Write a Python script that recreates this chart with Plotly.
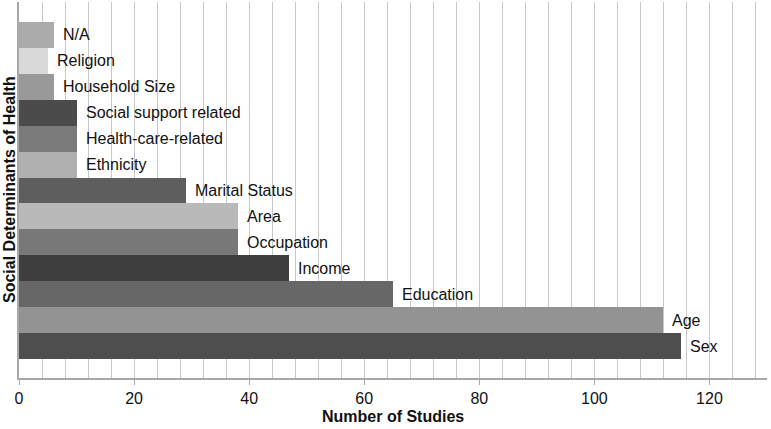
import plotly.graph_objects as go

categories = ["Sex", "Age", "Education", "Income", "Occupation", "Area",
              "Marital Status", "Ethnicity", "Health-care-related",
              "Social support related", "Household Size", "Religion", "N/A"]
values = [115, 112, 65, 47, 38, 38, 29, 10, 10, 10, 6, 5, 6]
colors = ["#4e4e4e", "#939393", "#676767", "#3e3e3e", "#787878", "#b9b9b9",
          "#5e5e5e", "#b0b0b0", "#7a7a7a", "#4b4b4b", "#999999", "#d9d9d9", "#ababab"]
x_title = "Number of Studies"
y_title = "Social Determinants of Health"

FONT = "Liberation Sans, Arial, sans-serif"

fig = go.Figure(go.Bar(
    x=values, y=categories, orientation="h",
    marker=dict(color=colors, line=dict(width=0)),
    hoverinfo="x+y",
))

for c, v in zip(categories, values):
    fig.add_annotation(x=v, y=c, text=c, showarrow=False, xanchor="left",
                       yanchor="middle", xshift=7,
                       font=dict(family=FONT, size=16, color="#111111"))

fig.add_annotation(xref="paper", yref="paper", x=0.5, y=0, yanchor="middle",
                   yshift=-38, text="<b>" + x_title + "</b>", showarrow=False,
                   font=dict(family=FONT, size=16, color="#111111"))
fig.add_annotation(xref="paper", yref="paper", x=0, y=0.5, xanchor="center",
                   xshift=-10, textangle=-90, text="<b>" + y_title + "</b>",
                   showarrow=False,
                   font=dict(family=FONT, size=16, color="#111111"))

fig.update_layout(
    width=771, height=429,
    margin=dict(l=19, r=4, t=2, b=51),
    paper_bgcolor="white", plot_bgcolor="white",
    bargap=0, showlegend=False,
    font=dict(family=FONT, size=16, color="#111111"),
)
fig.update_xaxes(
    range=[0, 130], dtick=20, tick0=0, automargin=False,
    showgrid=True, gridcolor="#c8c8c8", gridwidth=1,
    minor=dict(dtick=4, tick0=0, showgrid=True, gridcolor="#c8c8c8", gridwidth=1),
    showline=True, linecolor="#a8a8a8", linewidth=1.5,
    ticks="outside", ticklen=5, tickcolor="#a8a8a8",
    zeroline=False,
    tickfont=dict(family=FONT, size=16, color="#111111"),
)
fig.update_yaxes(
    type="category", categoryorder="array", categoryarray=categories,
    range=[-1.23, 13.27], automargin=False,
    showticklabels=False, showgrid=False, zeroline=False,
    showline=True, linecolor="#a8a8a8", linewidth=1.5, ticks="",
)

fig.write_html("out.html", config={"displayModeBar": False},
               post_script="document.body.style.margin='0';document.body.style.overflow='hidden';")
